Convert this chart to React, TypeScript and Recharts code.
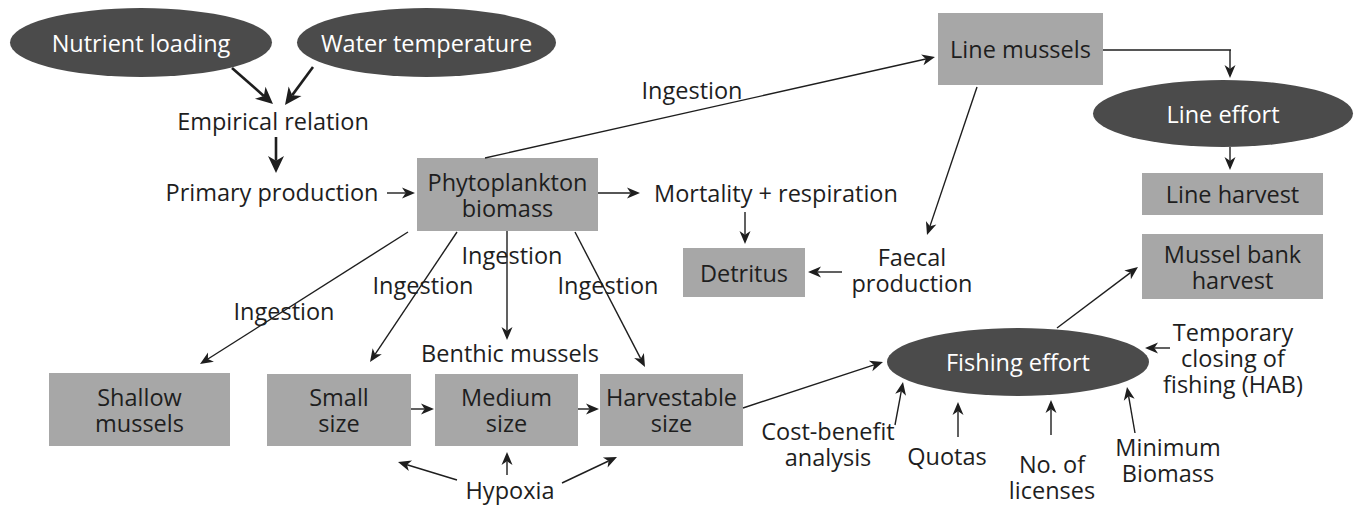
import React from 'react'
import { ScatterChart, Scatter, XAxis, YAxis, ReferenceArea, ReferenceLine } from 'recharts'

// diagram units: the axis domains match the 1355 x 505 picture
const W = 1355
const H = 505
const FONT = '"Open Sans", sans-serif'
const FONT_SIZE = 23.5
const LINE_GAP = 26
const INK = '#1e1e1e'
const BOX_FILL = '#a7a7a7'
const OVAL_FILL = '#4b4b4b'

const OVALS = [
  { label: ['Nutrient loading'], x1: 10, x2: 272, y1: 8, y2: 77 },
  { label: ['Water temperature'], x1: 297, x2: 556, y1: 8, y2: 77 },
  { label: ['Line effort'], x1: 1093, x2: 1353, y1: 80, y2: 147 },
  { label: ['Fishing effort'], x1: 887, x2: 1149, y1: 328, y2: 396 },
]

const BOXES = [
  { label: ['Line mussels'], x1: 938, x2: 1103, y1: 13, y2: 85 },
  { label: ['Phytoplankton', 'biomass'], x1: 417, x2: 598, y1: 158, y2: 231 },
  { label: ['Line harvest'], x1: 1142, x2: 1323, y1: 173, y2: 215 },
  { label: ['Mussel bank', 'harvest'], x1: 1142, x2: 1323, y1: 234, y2: 299 },
  { label: ['Detritus'], x1: 683, x2: 805, y1: 248, y2: 297 },
  { label: ['Shallow', 'mussels'], x1: 49, x2: 230, y1: 373, y2: 446 },
  { label: ['Small', 'size'], x1: 267, x2: 411, y1: 374, y2: 446 },
  { label: ['Medium', 'size'], x1: 435, x2: 578, y1: 374, y2: 446 },
  { label: ['Harvestable', 'size'], x1: 600, x2: 743, y1: 374, y2: 446 },
]

const LABELS = [
  { x: 273, y: 121, text: ['Empirical relation'] },
  { x: 272, y: 192, text: ['Primary production'] },
  { x: 776, y: 193, text: ['Mortality + respiration'] },
  { x: 692, y: 90, text: ['Ingestion'] },
  { x: 512, y: 255, text: ['Ingestion'] },
  { x: 423, y: 285, text: ['Ingestion'] },
  { x: 608, y: 285, text: ['Ingestion'] },
  { x: 284, y: 311, text: ['Ingestion'] },
  { x: 510, y: 353, text: ['Benthic mussels'] },
  { x: 912, y: 270, text: ['Faecal', 'production'] },
  { x: 1233, y: 358, text: ['Temporary', 'closing of', 'fishing (HAB)'] },
  { x: 828, y: 444, text: ['Cost-benefit', 'analysis'] },
  { x: 947, y: 456, text: ['Quotas'] },
  { x: 1052, y: 477, text: ['No. of', 'licenses'] },
  { x: 1168, y: 460, text: ['Minimum', 'Biomass'] },
  { x: 510, y: 490, text: ['Hypoxia'] },
]

// [x1, y1, x2, y2], head at the second point
const HEAVY_ARROWS = [
  [232, 68, 273, 104],
  [313, 67, 285, 105],
  [276, 137, 276, 173],
]

const ARROWS = [
  [387, 193, 415, 193],
  [485, 158, 935, 57],
  [598, 193, 640, 193],
  [745, 212, 745, 244],
  [977, 87, 927, 235],
  [842, 272, 808, 272],
  [1230, 50, 1230, 78],
  [1230, 147, 1230, 170],
  [408, 232, 200, 364],
  [457, 232, 370, 362],
  [507, 231, 507, 340],
  [575, 232, 645, 367],
  [411, 409, 434, 409],
  [578, 409, 599, 409],
  [457, 480, 398, 462],
  [507, 475, 507, 452],
  [562, 483, 617, 457],
  [743, 408, 883, 362],
  [1057, 328, 1138, 267],
  [1170, 348, 1145, 348],
  [895, 425, 903, 382],
  [958, 437, 958, 402],
  [1051, 435, 1051, 400],
  [1135, 433, 1127, 387],
]

const PLAIN_LINES = [[1103, 50, 1231, 50]]

// one <text> per label, each line a tspan
function textBlock(lines: string[], cx: number, cy: number, color: string) {
  const top = cy - ((lines.length - 1) * LINE_GAP) / 2
  return (
    <text
      x={cx}
      y={top}
      textAnchor="middle"
      dominantBaseline="central"
      fill={color}
      fontFamily={FONT}
      fontSize={FONT_SIZE}
    >
      {lines.map((t, i) => (
        <tspan key={i} x={cx} y={top + i * LINE_GAP}>
          {t}
        </tspan>
      ))}
    </text>
  )
}

const boxShape = (lines: string[]) => (p: any) => (
  <g>
    <rect x={p.x} y={p.y} width={p.width} height={p.height} fill={BOX_FILL} />
    {textBlock(lines, p.x + p.width / 2, p.y + p.height / 2, INK)}
  </g>
)

const ovalShape = (lines: string[]) => (p: any) => (
  <g>
    <ellipse
      cx={p.x + p.width / 2}
      cy={p.y + p.height / 2}
      rx={p.width / 2}
      ry={p.height / 2}
      fill={OVAL_FILL}
    />
    {textBlock(lines, p.x + p.width / 2, p.y + p.height / 2, '#ffffff')}
  </g>
)

const arrowShape = (weight: number, headLen: number, headHalf: number) => (p: any) => {
  const { x1, y1, x2, y2 } = p
  const len = Math.hypot(x2 - x1, y2 - y1) || 1
  const ux = (x2 - x1) / len
  const uy = (y2 - y1) / len
  const bx = x2 - ux * headLen
  const by = y2 - uy * headLen
  const nx = x2 - ux * headLen * 0.72
  const ny = y2 - uy * headLen * 0.72
  const pts = [
    [x2, y2],
    [bx - uy * headHalf, by + ux * headHalf],
    [nx, ny],
    [bx + uy * headHalf, by - ux * headHalf],
  ]
  return (
    <g>
      <line x1={x1} y1={y1} x2={nx} y2={ny} stroke={INK} strokeWidth={weight} />
      <polygon points={pts.map((q) => q.join(',')).join(' ')} fill={INK} />
    </g>
  )
}

const plainShape = (p: any) => (
  <line x1={p.x1} y1={p.y1} x2={p.x2} y2={p.y2} stroke={INK} strokeWidth={1.4} />
)

const labelShape = (p: any) => <g>{textBlock(p.payload.text, p.cx, p.cy, INK)}</g>

export default function App() {
  return (
    <div style={{ position: 'absolute', left: 0, top: 0, background: '#fff' }}>
      <ScatterChart width={W} height={H} margin={{ top: 0, right: 0, bottom: 0, left: 0 }}>
        <XAxis type="number" dataKey="x" domain={[0, W]} hide />
        <YAxis type="number" dataKey="y" domain={[0, H]} reversed hide />
        {BOXES.map((b, i) => (
          <ReferenceArea
            key={'b' + i}
            x1={b.x1}
            x2={b.x2}
            y1={b.y1}
            y2={b.y2}
            fillOpacity={1}
            shape={boxShape(b.label)}
          />
        ))}
        {OVALS.map((o, i) => (
          <ReferenceArea
            key={'o' + i}
            x1={o.x1}
            x2={o.x2}
            y1={o.y1}
            y2={o.y2}
            fillOpacity={1}
            shape={ovalShape(o.label)}
          />
        ))}
        {PLAIN_LINES.map((l, i) => (
          <ReferenceLine
            key={'p' + i}
            segment={[{ x: l[0], y: l[1] }, { x: l[2], y: l[3] }]}
            shape={plainShape}
          />
        ))}
        {HEAVY_ARROWS.map((a, i) => (
          <ReferenceLine
            key={'h' + i}
            segment={[{ x: a[0], y: a[1] }, { x: a[2], y: a[3] }]}
            shape={arrowShape(2.6, 17, 8)}
          />
        ))}
        {ARROWS.map((a, i) => (
          <ReferenceLine
            key={'a' + i}
            segment={[{ x: a[0], y: a[1] }, { x: a[2], y: a[3] }]}
            shape={arrowShape(1.4, 13, 5.5)}
          />
        ))}
        <Scatter data={LABELS} fill="none" shape={labelShape} isAnimationActive={false} />
      </ScatterChart>
    </div>
  )
}
